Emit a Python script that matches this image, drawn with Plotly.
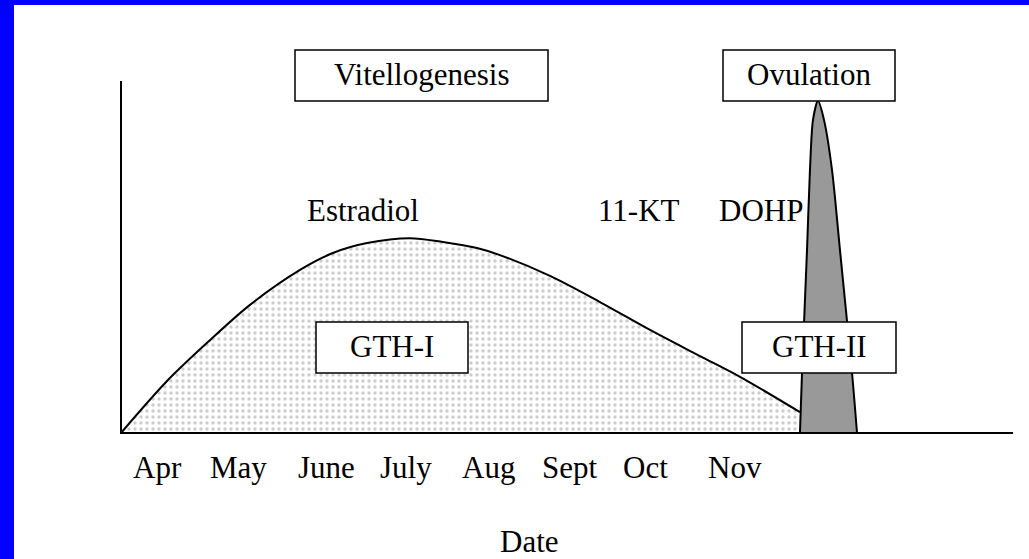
import plotly.graph_objects as go

# ---------------- data ----------------
months = ["Apr", "May", "June", "July", "Aug", "Sept", "Oct", "Nov"]
month_pos = [0.45, 1.43, 2.50, 3.48, 4.48, 5.48, 6.40, 7.49]

# GTH-I / estradiol broad curve (x in months from origin, y relative level)
gth1_x = [0.0, 0.573, 1.085, 1.573, 2.183, 2.585, 3.0, 3.524, 3.927, 4.341, 4.622,
          5.232, 5.841, 6.451, 7.061, 7.549, 8.28]
gth1_y = [0.0, 15.0, 26.3, 36.3, 46.2, 51.0, 53.8, 55.2, 54.1, 52.4, 50.4,
          44.5, 37.1, 29.2, 21.8, 15.9, 5.9]

# GTH-II ovulation spike
gth2_x = [8.280, 8.305, 8.366, 8.402, 8.439, 8.500, 8.573, 8.671, 8.768, 8.915, 8.976]
gth2_y = [0.0, 17.0, 51.8, 74.5, 88.7, 94.1, 88.7, 74.5, 51.8, 17.0, 0.0]

W, H = 1029, 559
X0, PXM = 121, 82.0      # pixel of x origin, pixels per month
Y0, PXU = 433, 3.53      # pixel of y origin, pixels per unit

def px(x):
    return x / W

def py(y):
    return 1 - y / H

FONT = dict(family="Liberation Serif", size=31, color="black")

fig = go.Figure()

fig.add_trace(go.Scatter(
    x=gth1_x, y=gth1_y, mode="lines",
    line=dict(color="black", width=2, shape="spline", smoothing=0.9),
    fill="tozeroy",
    fillcolor="white",
    fillpattern=dict(shape=".", fgcolor="#9a9a9a", bgcolor="white", size=6, solidity=0.25),
    hoverinfo="skip", showlegend=False,
))

fig.add_trace(go.Scatter(
    x=gth2_x, y=gth2_y, mode="lines",
    line=dict(color="black", width=2, shape="spline", smoothing=0.8),
    fill="toself", fillcolor="#999999",
    hoverinfo="skip", showlegend=False,
))

shapes = []
# axes lines
shapes.append(dict(type="line", xref="paper", yref="paper",
                   x0=px(121), x1=px(121), y0=py(81), y1=py(434),
                   line=dict(color="black", width=2), layer="above"))
shapes.append(dict(type="line", xref="paper", yref="paper",
                   x0=px(120), x1=px(1013), y0=py(433), y1=py(433),
                   line=dict(color="black", width=2), layer="above"))

# boxes
boxes = [
    ("Vitellogenesis", 295, 548, 50, 101),
    ("Ovulation", 723, 895, 50, 101),
    ("GTH-I", 316, 468, 322, 373),
    ("GTH-II", 742, 896, 322, 373),
]
annotations = []
for label, l, r, t, b in boxes:
    shapes.append(dict(type="rect", xref="paper", yref="paper",
                       x0=px(l), x1=px(r), y0=py(b), y1=py(t),
                       line=dict(color="black", width=1.5), fillcolor="white", layer="above"))
    annotations.append(dict(text=label, xref="paper", yref="paper",
                            x=px((l + r) / 2), y=py((t + b) / 2 - 1),
                            showarrow=False, font=FONT, xanchor="center", yanchor="middle"))

# free labels
for label, cx, cy in [("Estradiol", 363, 211), ("11-KT", 639, 210), ("DOHP", 761, 210)]:
    annotations.append(dict(text=label, xref="paper", yref="paper", x=px(cx), y=py(cy),
                            showarrow=False, font=FONT, xanchor="center", yanchor="middle"))
annotations.append(dict(text="Date", xref="paper", yref="paper", x=px(529), y=0,
                        showarrow=False, font=FONT, xanchor="center", yanchor="bottom",
                        borderpad=0, borderwidth=0))

# month labels through the x axis scale
for m, pos in zip(months, month_pos):
    annotations.append(dict(text=m, xref="x", yref="paper", x=pos, y=py(467),
                            showarrow=False, font=FONT, xanchor="center", yanchor="middle"))

# blue frame
shapes.append(dict(type="rect", xref="paper", yref="paper", x0=0, x1=px(14), y0=0, y1=1,
                   fillcolor="#0000ff", line=dict(width=0), layer="above"))
shapes.append(dict(type="rect", xref="paper", yref="paper", x0=0, x1=1, y0=py(5), y1=1,
                   fillcolor="#0000ff", line=dict(width=0), layer="above"))

fig.update_layout(
    width=W, height=H,
    margin=dict(l=0, r=0, t=0, b=0),
    paper_bgcolor="white", plot_bgcolor="white",
    xaxis=dict(range=[-X0 / PXM, (W - X0) / PXM], visible=False, fixedrange=True),
    yaxis=dict(range=[(Y0 - H) / PXU, Y0 / PXU], visible=False, fixedrange=True),
    shapes=shapes, annotations=annotations,
)

fig.write_html(
    "out.html",
    config={"displayModeBar": False},
    post_script="document.body.style.margin='0';document.body.style.overflow='hidden';",
)
